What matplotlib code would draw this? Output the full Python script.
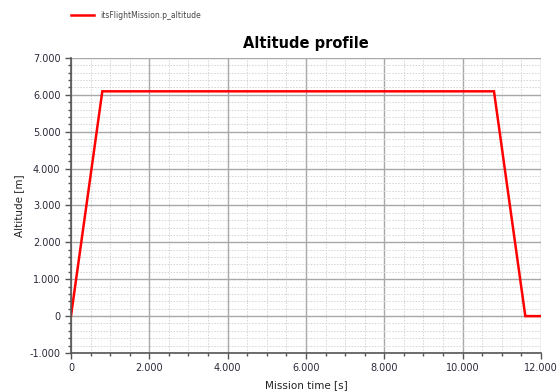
import matplotlib.pyplot as plt
from matplotlib.ticker import MultipleLocator, FuncFormatter

# flight profile: climb, cruise, descent, ground
time_s = [0, 800, 10800, 11600, 12000]
altitude_m = [0, 6096, 6096, 0, 0]

def dotted_thousands(v, pos):
    return f"{v:,.0f}".replace(",", ".")

fig = plt.figure(figsize=(5.58, 3.91), dpi=100)
ax = fig.add_axes([0.1272, 0.0972, 0.8423, 0.7545])

line, = ax.plot(time_s, altitude_m, color='#ff0000', lw=1.8, solid_joinstyle='miter')

ax.set_xlim(0, 12000)
ax.set_ylim(-1000, 7000)
ax.xaxis.set_major_locator(MultipleLocator(2000))
ax.xaxis.set_minor_locator(MultipleLocator(500))
ax.yaxis.set_major_locator(MultipleLocator(1000))
ax.yaxis.set_minor_locator(MultipleLocator(200))
ax.xaxis.set_major_formatter(FuncFormatter(dotted_thousands))
ax.yaxis.set_major_formatter(FuncFormatter(dotted_thousands))

ax.grid(True, which='major', color='#a8a8a8', lw=1.0)
ax.grid(True, which='minor', color='#d4d4d4', lw=0.7, ls=(0, (1.5, 1.5)))
ax.set_axisbelow(True)

for s in ['top', 'right']:
    ax.spines[s].set_visible(False)
for s in ['left', 'bottom']:
    ax.spines[s].set_color('#555555')
    ax.spines[s].set_linewidth(1.2)

ax.tick_params(which='major', direction='out', length=4, width=1, color='#555555',
               labelsize=7, labelcolor='#2a2a3a')
ax.tick_params(which='minor', direction='out', length=2.5, width=1, color='#555555')

ax.set_title('Altitude profile', fontsize=10.5, fontweight='bold', pad=7)
ax.set_xlabel('Mission time [s]', fontsize=7.5, color='#222222', labelpad=5)
ax.set_ylabel('Altitude [m]', fontsize=7.5, color='#222222', labelpad=4)

fig.legend([line], ['itsFlightMission.p_altitude'], loc='center left',
           bbox_to_anchor=(0.115, 0.961), frameon=False, fontsize=5.5,
           handlelength=3, labelcolor='#444444')

fig.savefig('out.png', dpi=100)
